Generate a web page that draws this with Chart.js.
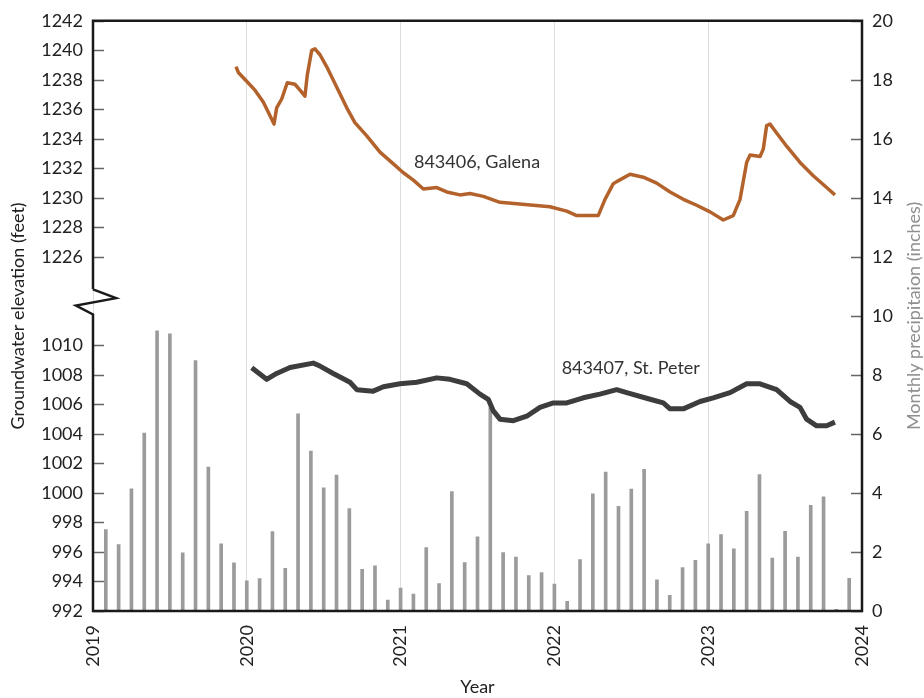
<!DOCTYPE html>
<html>
<head>
<meta charset="utf-8">
<script src="https://cdn.jsdelivr.net/npm/chart.js@4.4.1/dist/chart.umd.min.js"></script>
<style>
html, body { margin: 0; padding: 0; background: #fff; }
#wrap { width: 924px; height: 698px; }
</style>
</head>
<body>
<div id="wrap"><canvas id="gwChart" width="924" height="698"></canvas></div>
<script>
// monthly precipitation (inches), Jan 2019 .. Nov 2023
var precipStart = 2019;
var precipInches = [
  2.76, 2.25, 4.14, 6.03, 9.49, 9.39, 1.97, 8.49, 4.88, 2.28, 1.63, 1.02,
  1.10, 2.69, 1.45, 6.68, 5.42, 4.17, 4.61, 3.47, 1.41, 1.53, 0.37, 0.78,
  0.57, 2.15, 0.93, 4.05, 1.64, 2.51, 6.89, 1.98, 1.83, 1.20, 1.30, 0.91,
  0.33, 1.74, 3.97, 4.71, 3.55, 4.13, 4.80, 1.06, 0.53, 1.47, 1.72, 2.28,
  2.59, 2.11, 3.38, 4.62, 1.79, 2.70, 1.83, 3.58, 3.87, 0.06, 1.11
];

// well 843406, Galena (feet)
var galenaYear = [
  2019.930, 2019.945, 2019.999, 2020.053, 2020.107, 2020.140, 2020.177, 2020.194,
  2020.227, 2020.263, 2020.313, 2020.346, 2020.378, 2020.393, 2020.422, 2020.443,
  2020.476, 2020.519, 2020.585, 2020.650, 2020.703, 2020.780, 2020.866, 2020.953,
  2021.018, 2021.083, 2021.148, 2021.235, 2021.300, 2021.386, 2021.451, 2021.538,
  2021.646, 2021.755, 2021.863, 2021.971, 2022.080, 2022.145, 2022.285, 2022.329,
  2022.383, 2022.405, 2022.492, 2022.578, 2022.665, 2022.752, 2022.838, 2022.925,
  2023.012, 2023.098, 2023.163, 2023.207, 2023.250, 2023.272, 2023.337, 2023.358,
  2023.380, 2023.402, 2023.445, 2023.510, 2023.597, 2023.683, 2023.770, 2023.824
];
var galenaFeet = [
  1238.9, 1238.5, 1237.9, 1237.3, 1236.5, 1235.8, 1235.0, 1236.1,
  1236.7, 1237.8, 1237.7, 1237.3, 1236.9, 1238.3, 1240.0, 1240.1,
  1239.7, 1238.9, 1237.5, 1236.1, 1235.1, 1234.2, 1233.1, 1232.3,
  1231.7, 1231.2, 1230.6, 1230.7, 1230.4, 1230.2, 1230.3, 1230.1,
  1229.7, 1229.6, 1229.5, 1229.4, 1229.1, 1228.8, 1228.8, 1229.9,
  1230.96, 1231.1, 1231.6, 1231.4, 1231.0, 1230.4, 1229.9, 1229.5,
  1229.05, 1228.5, 1228.8, 1229.9, 1232.4, 1232.9, 1232.8, 1233.3,
  1234.9, 1235.0, 1234.4, 1233.5, 1232.4, 1231.5, 1230.7, 1230.2
];

// well 843407, St. Peter (feet)
var stPeterYear = [
  2020.032, 2020.129, 2020.194, 2020.281, 2020.432, 2020.476, 2020.562, 2020.671,
  2020.715, 2020.822, 2020.888, 2020.996, 2021.105, 2021.235, 2021.321, 2021.430,
  2021.516, 2021.570, 2021.603, 2021.646, 2021.733, 2021.820, 2021.906, 2021.993,
  2022.080, 2022.188, 2022.296, 2022.405, 2022.470, 2022.622, 2022.708, 2022.752,
  2022.838, 2022.947, 2023.033, 2023.142, 2023.250, 2023.337, 2023.445, 2023.532,
  2023.597, 2023.640, 2023.705, 2023.770, 2023.824
];
var stPeterFeet = [
  1008.48, 1007.7, 1008.1, 1008.5, 1008.8, 1008.6, 1008.1, 1007.5,
  1007.0, 1006.9, 1007.2, 1007.4, 1007.5, 1007.8, 1007.7, 1007.4,
  1006.7, 1006.35, 1005.56, 1005.0, 1004.9, 1005.2, 1005.8, 1006.1,
  1006.1, 1006.45, 1006.7, 1007.0, 1006.8, 1006.35, 1006.1, 1005.7,
  1005.7, 1006.2, 1006.45, 1006.8, 1007.4, 1007.4, 1007.0, 1006.2,
  1005.8, 1005.0, 1004.55, 1004.55, 1004.8
];

var FONT = 'Lato, "Open Sans", sans-serif';

function pairs(xs, ys) {
  return xs.map(function (x, i) { return { x: x, y: ys[i] }; });
}

// bars sit at the end of each month
var precipPoints = precipInches.map(function (v, i) {
  return { x: precipStart + (i + 1) / 12, y: v };
});

var framePlugin = {
  id: 'frame',
  afterDatasetsDraw: function (chart) {
    var ctx = chart.ctx;
    var s = chart.scales;
    ctx.save();
    ctx.fillStyle = '#333';
    ctx.font = '18px ' + FONT;
    ctx.textBaseline = 'middle';
    ctx.textAlign = 'left';
    ctx.fillText('843406, Galena', s.x.getPixelForValue(2021.087), s.yTop.getPixelForValue(1232.42));
    ctx.fillText('843407, St. Peter', s.x.getPixelForValue(2022.047), s.yBot.getPixelForValue(1008.48));
    ctx.restore();
  },
  afterDraw: function (chart) {
    var ctx = chart.ctx;
    var a = chart.chartArea;
    var s = chart.scales;
    ctx.save();

    // tick marks pointing inward
    ctx.strokeStyle = '#666';
    ctx.lineWidth = 1.5;
    ctx.beginPath();
    s.yBot.ticks.forEach(function (t) {
      if (t.value > 1010) return;
      var y = Math.round(s.yBot.getPixelForValue(t.value)) + 0.5;
      ctx.moveTo(a.left, y); ctx.lineTo(a.left + 11, y);
    });
    s.yTop.ticks.forEach(function (t) {
      if (t.value < 1226) return;
      var y = Math.round(s.yTop.getPixelForValue(t.value)) + 0.5;
      ctx.moveTo(a.left, y); ctx.lineTo(a.left + 11, y);
    });
    s.yR.ticks.forEach(function (t) {
      var y = Math.round(s.yR.getPixelForValue(t.value)) + 0.5;
      ctx.moveTo(a.right - 11, y); ctx.lineTo(a.right, y);
    });
    ctx.stroke();

    // frame with axis break on the left
    var b1 = s.yTop.getPixelForValue(1223.8);
    var b2 = s.yBot.getPixelForValue(1012.1);
    var h = b2 - b1;
    ctx.strokeStyle = '#1a1a1a';
    ctx.lineWidth = 2.5;
    ctx.lineJoin = 'miter';
    ctx.beginPath();
    ctx.moveTo(a.left, b1);
    ctx.lineTo(a.left, a.top);
    ctx.lineTo(a.right, a.top);
    ctx.lineTo(a.right, a.bottom);
    ctx.lineTo(a.left, a.bottom);
    ctx.lineTo(a.left, b2);
    ctx.lineTo(a.left - 17, b1 + h * 0.65);
    ctx.lineTo(a.left + 23, b1 + h * 0.35);
    ctx.lineTo(a.left, b1);
    ctx.stroke();

    // axis titles
    ctx.font = '18px ' + FONT;
    ctx.textAlign = 'center';
    ctx.textBaseline = 'middle';
    var cy = (a.top + a.bottom) / 2;
    ctx.fillStyle = '#222';
    ctx.save();
    ctx.translate(18, cy);
    ctx.rotate(-Math.PI / 2);
    ctx.fillText('Groundwater elevation (feet)', 0, 0);
    ctx.restore();
    ctx.fillStyle = '#8f8f8f';
    ctx.save();
    ctx.translate(914, cy);
    ctx.rotate(-Math.PI / 2);
    ctx.fillText('Monthly precipitaion (inches)', 0, 0);
    ctx.restore();
    ctx.fillStyle = '#222';
    ctx.fillText('Year', (a.left + a.right) / 2, 687);
    ctx.restore();
  }
};

var tickFont = { family: FONT, size: 18 };

new Chart(document.getElementById('gwChart').getContext('2d'), {
  data: {
    datasets: [{
      type: 'line',
      label: '843406, Galena',
      data: pairs(galenaYear, galenaFeet),
      yAxisID: 'yTop',
      borderColor: '#b3622b',
      borderWidth: 3.5,
      pointRadius: 0,
      borderJoinStyle: 'round',
      order: 0
    }, {
      type: 'line',
      label: '843407, St. Peter',
      data: pairs(stPeterYear, stPeterFeet),
      yAxisID: 'yBot',
      borderColor: '#3d3d3d',
      borderWidth: 5,
      pointRadius: 0,
      borderJoinStyle: 'round',
      order: 0
    }, {
      type: 'bar',
      label: 'Monthly precipitation',
      data: precipPoints,
      yAxisID: 'yR',
      backgroundColor: '#9b9b9b',
      barThickness: 3,
      order: 1
    }]
  },
  options: {
    responsive: false,
    animation: false,
    layout: { padding: 0 },
    plugins: { legend: { display: false }, tooltip: { enabled: false } },
    scales: {
      x: {
        type: 'linear',
        position: 'bottom',
        min: 2019,
        max: 2024,
        offset: false,
        ticks: {
          stepSize: 1,
          autoSkip: false,
          minRotation: 90,
          maxRotation: 90,
          padding: 14,
          color: '#222',
          font: tickFont,
          callback: function (v) { return String(v); }
        },
        grid: { color: '#dddddd', lineWidth: 1, drawTicks: false, offset: false },
        border: { display: false },
        afterFit: function (sc) { sc.height = 87; }
      },
      yBot: {
        type: 'linear',
        position: 'left',
        stack: 'left',
        stackWeight: 1,
        min: 992,
        max: 1012,
        ticks: {
          stepSize: 2,
          autoSkip: false,
          padding: 10,
          color: '#222',
          font: tickFont,
          callback: function (v) { return v > 1010 ? '' : String(v); }
        },
        grid: { display: false, drawTicks: false },
        border: { display: false },
        afterFit: function (sc) { sc.width = 93; }
      },
      yTop: {
        type: 'linear',
        position: 'left',
        stack: 'left',
        stackWeight: 1,
        min: 1222,
        max: 1242,
        ticks: {
          stepSize: 2,
          autoSkip: false,
          padding: 10,
          color: '#222',
          font: tickFont,
          callback: function (v) { return v < 1226 ? '' : String(v); }
        },
        grid: { display: false, drawTicks: false },
        border: { display: false },
        afterFit: function (sc) { sc.width = 93; }
      },
      yR: {
        type: 'linear',
        position: 'right',
        min: 0,
        max: 20,
        ticks: {
          stepSize: 2,
          autoSkip: false,
          padding: 10,
          color: '#222',
          font: tickFont
        },
        grid: { display: false, drawTicks: false },
        border: { display: false },
        afterFit: function (sc) { sc.width = 62; }
      }
    }
  },
  plugins: [framePlugin]
});
</script>
</body>
</html>
